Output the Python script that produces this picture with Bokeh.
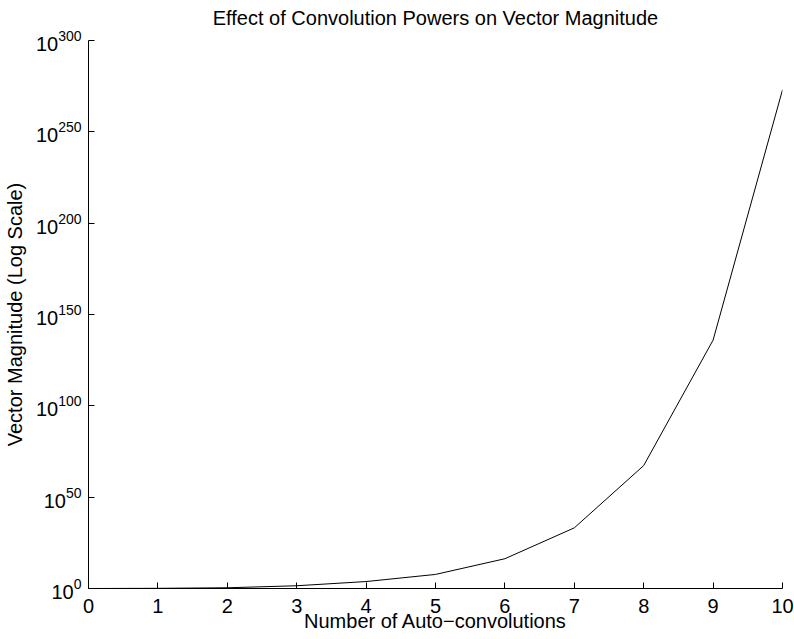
from bokeh.plotting import figure
from bokeh.models import Range1d, FixedTicker, LinearAxis
from bokeh.embed import file_html
from bokeh.resources import INLINE

# Data
convolutions = [0, 1, 2, 3, 4, 5, 6, 7, 8, 9, 10]
magnitude = [1.0, 1.26, 2.5, 32.0, 6.3e3, 5.0e7, 2.0e16, 1.6e33, 2.0e67, 1.0e136, 1.0e273]

x_ticks = [0, 1, 2, 3, 4, 5, 6, 7, 8, 9, 10]
y_ticks = [1e0, 1e50, 1e100, 1e150, 1e200, 1e250, 1e300]

TITLE = "Effect of Convolution Powers on Vector Magnitude"
FONT = "Liberation Sans"

p = figure(width=794, height=639, output_backend="svg", toolbar_location=None,
           x_range=Range1d(0, 10), y_range=Range1d(1, 1e300), y_axis_type="log",
           min_border_left=88, min_border_right=12, min_border_top=40, min_border_bottom=51)

p.outline_line_color = None
p.background_fill_color = "white"
p.border_fill_color = "white"
p.xgrid.grid_line_color = None
p.ygrid.grid_line_color = None

p.line(convolutions, magnitude, line_color="black", line_width=1)

# bottom x axis (the figure's own axis)
xa = p.below[0]
xa.ticker = FixedTicker(ticks=x_ticks, minor_ticks=[])
xa.axis_line_color = "black"
xa.major_tick_line_color = "black"
xa.major_tick_in = 6
xa.major_tick_out = 0
xa.minor_tick_line_color = None
xa.major_label_text_font = FONT
xa.major_label_text_font_size = "20px"
xa.major_label_text_color = "black"
xa.major_label_standoff = 10
xa.axis_label = "Number of Auto\u2212convolutions"
xa.axis_label_text_font = FONT
xa.axis_label_text_font_size = "20px"
xa.axis_label_text_font_style = "normal"
xa.axis_label_text_color = "black"
xa.axis_label_standoff = -6

# left y axis
ya = p.left[0]
ya.ticker = FixedTicker(ticks=y_ticks, minor_ticks=[])
ya.axis_line_color = "black"
ya.major_tick_line_color = "black"
ya.major_tick_in = 6
ya.major_tick_out = 0
ya.minor_tick_line_color = None
ya.major_label_text_font = FONT
ya.major_label_text_font_size = "20px"
ya.major_label_text_color = "black"
ya.major_label_text_align = "left"
ya.major_label_standoff = 7
ya.axis_label = "Vector Magnitude (Log Scale)"
ya.axis_label_text_font = FONT
ya.axis_label_text_font_size = "20px"
ya.axis_label_text_font_style = "normal"
ya.axis_label_text_color = "black"
ya.axis_label_standoff = 7

# title drawn as the label of an empty axis above the plot
top = LinearAxis(ticker=FixedTicker(ticks=[], minor_ticks=[]), axis_label=TITLE)
top.axis_line_color = None
top.major_tick_line_color = None
top.minor_tick_line_color = None
top.major_tick_in = 0
top.major_tick_out = 0
top.major_label_standoff = 0
top.axis_label_text_font = FONT
top.axis_label_text_font_size = "20px"
top.axis_label_text_font_style = "normal"
top.axis_label_text_color = "black"
top.axis_label_standoff = 12
p.add_layout(top, "above")

open("out.html", "w").write(file_html(p, INLINE))
